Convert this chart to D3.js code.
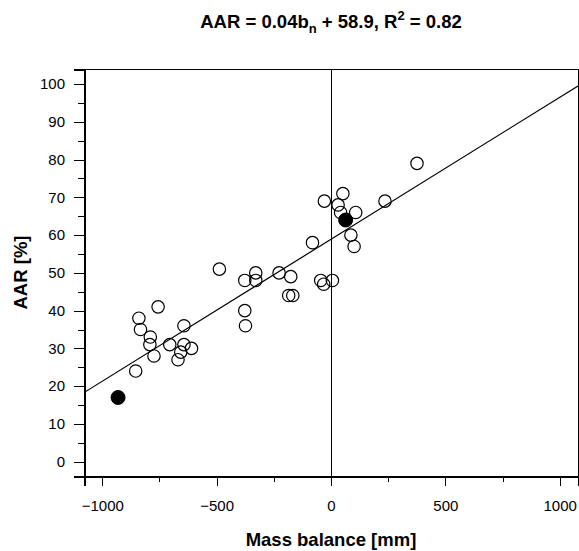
<!DOCTYPE html>
<html>
<head>
<meta charset="utf-8">
<script src="https://cdn.jsdelivr.net/npm/d3@7"></script>
<style>
  body { margin: 0; background: #fff; }
  svg { display: block; }
  text { font-family: "Liberation Sans", Arial, Helvetica, sans-serif; fill: #000; }
</style>
</head>
<body>
<svg id="chart" width="579" height="551"></svg>
<script>
// ---- Data ----
const openMass = [-840, -833, -790, -792, -774, -854, -705, -643, -643, -610, -669, -756, -657,
  -488, -377, -329, -329, -227, -176, -185, -167, -377, -374, -45, -32, 6, -81,
  -29, 52, 31, 42, 108, 87, 101, 236, 376];
const openAAR = [38, 35, 33, 31, 28, 24, 31, 36, 31, 30, 27, 41, 29,
  51, 48, 50, 48, 50, 49, 44, 44, 40, 36, 48, 47, 48, 58,
  69, 71, 68, 66, 66, 60, 57, 69, 79];
const filledMass = [-931, 64];
const filledAAR = [17, 64];
const fitSlope = 0.0376;
const fitIntercept = 58.9;
const xMajorTicks = [-1000, -500, 0, 500, 1000];
const xMinorTicks = [-750, -250, 250, 750];
const yMajorTicks = [0, 10, 20, 30, 40, 50, 60, 70, 80, 90, 100];
const yMinorTicks = [5, 15, 25, 35, 45, 55, 65, 75, 85, 95];
const xDomain = [-1080, 1080];
const yDomain = [-3.8, 104];

// ---- Layout ----
const L = 84, R = 578, T = 69, B = 476;
const svg = d3.select("#chart");
const x = d3.scaleLinear().domain(xDomain).range([L, R]);
const y = d3.scaleLinear().domain(yDomain).range([B, T]);

// frame
svg.append("rect").attr("x", L).attr("y", T).attr("width", R - L).attr("height", B - T)
  .attr("fill", "none").attr("stroke", "#000").attr("stroke-width", 1)
  .attr("shape-rendering", "crispEdges");

// axes
const fmt = d3.format("d");
const xAxisMajor = svg.append("g").attr("transform", `translate(0,${B})`)
  .call(d3.axisBottom(x).tickValues(xMajorTicks).tickSize(10).tickPadding(14).tickFormat(d => fmt(d).replace("-", "\u2212")));
const xAxisMinor = svg.append("g").attr("transform", `translate(0,${B})`)
  .call(d3.axisBottom(x).tickValues(xMinorTicks).tickSize(6).tickFormat(""));
const yAxisMajor = svg.append("g").attr("transform", `translate(${L},0)`)
  .call(d3.axisLeft(y).tickValues(yMajorTicks).tickSize(10).tickPadding(9).tickFormat(fmt));
const yAxisMinor = svg.append("g").attr("transform", `translate(${L},0)`)
  .call(d3.axisLeft(y).tickValues(yMinorTicks).tickSize(6).tickFormat(""));

[xAxisMajor, xAxisMinor, yAxisMajor, yAxisMinor].forEach(g => {
  g.select(".domain").attr("stroke", "#000").attr("stroke-width", 2).attr("shape-rendering", "crispEdges");
  g.selectAll(".tick line").attr("stroke", "#000").attr("stroke-width", 1).attr("shape-rendering", "crispEdges");
  g.selectAll(".tick text").attr("font-size", 15).attr("font-family", "Liberation Sans, Arial, sans-serif").attr("fill", "#000");
});

// plot clip
svg.append("clipPath").attr("id", "clip").append("rect")
  .attr("x", L).attr("y", T).attr("width", R - L).attr("height", B - T);
const plot = svg.append("g").attr("clip-path", "url(#clip)");

// zero line
plot.append("line").attr("x1", x(0)).attr("x2", x(0)).attr("y1", T).attr("y2", B)
  .attr("stroke", "#000").attr("stroke-width", 1).attr("shape-rendering", "crispEdges");

// fit line
const fitX = xDomain;
plot.append("line")
  .attr("x1", x(fitX[0])).attr("y1", y(fitIntercept + fitSlope * fitX[0]))
  .attr("x2", x(fitX[1])).attr("y2", y(fitIntercept + fitSlope * fitX[1]))
  .attr("stroke", "#000").attr("stroke-width", 1.2);

// open points
plot.selectAll("circle.open").data(openMass.map((m, i) => [m, openAAR[i]])).enter()
  .append("circle").attr("class", "open")
  .attr("cx", d => x(d[0])).attr("cy", d => y(d[1])).attr("r", 6.2)
  .attr("fill", "none").attr("stroke", "#000").attr("stroke-width", 1.2);

// filled points
plot.selectAll("circle.filled").data(filledMass.map((m, i) => [m, filledAAR[i]])).enter()
  .append("circle").attr("class", "filled")
  .attr("cx", d => x(d[0])).attr("cy", d => y(d[1])).attr("r", 7)
  .attr("fill", "#000").attr("stroke", "#000").attr("stroke-width", 1);

// title
const title = svg.append("text").attr("x", (L + R) / 2).attr("y", 28)
  .attr("text-anchor", "middle").attr("font-size", 18.5).attr("font-weight", "bold");
title.append("tspan").text("AAR = 0.04b");
title.append("tspan").attr("font-size", 13).attr("dy", 5).text("n");
title.append("tspan").attr("dy", -5).text(" + 58.9, R");
title.append("tspan").attr("font-size", 13).attr("dy", -8).text("2");
title.append("tspan").attr("dy", 8).text(" = 0.82");

// x axis title
svg.append("text").attr("x", (L + R) / 2).attr("y", 546)
  .attr("text-anchor", "middle").attr("font-size", 18.5).attr("font-weight", "bold")
  .text("Mass balance [mm]");

// y axis title
svg.append("text").attr("transform", `translate(27,${(T + B) / 2}) rotate(-90)`)
  .attr("text-anchor", "middle").attr("font-size", 18.5).attr("font-weight", "bold")
  .text("AAR [%]");
</script>
</body>
</html>
